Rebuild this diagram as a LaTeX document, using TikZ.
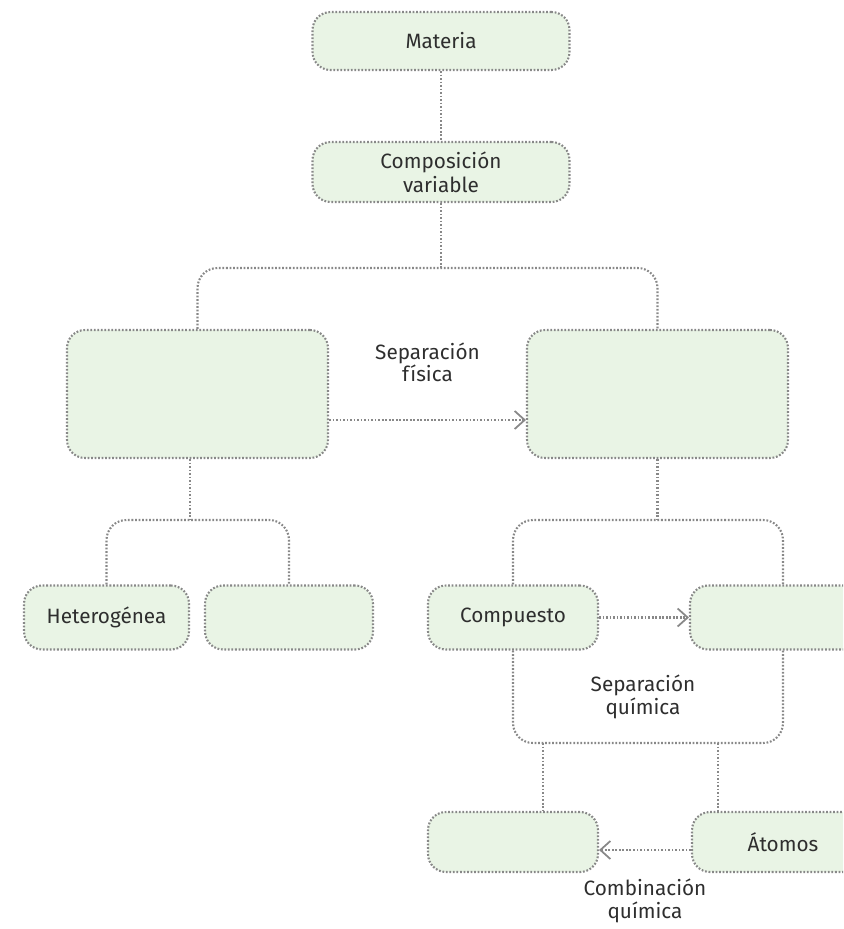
\documentclass[tikz,border=0pt]{standalone}
\usepackage{fontspec}
\setmainfont{Fira Sans}
\usetikzlibrary{arrows.meta, positioning}
\definecolor{boxfill}{HTML}{E9F4E5}
\definecolor{dotgray}{HTML}{888888}
\definecolor{txtgray}{HTML}{2E2E2E}

\begin{document}
\begin{tikzpicture}[
    x=0.02cm, y=-0.02cm,
    box/.style={rectangle, draw=dotgray, fill=boxfill, rounded corners=0.36cm, line width=1.2pt,
        dash pattern=on 1pt off 1pt, font=\fontsize{11.8}{13.5}\selectfont, text=txtgray, align=center},
    small/.style={box, minimum width=3.3cm, minimum height=1.28cm},
    link/.style={draw=dotgray, line width=1.2pt, dash pattern=on 1pt off 1pt},
    arr/.style={link, -{Straight Barb[length=2mm, width=3.6mm, line width=1pt]}},
    lbl/.style={font=\fontsize{11.8}{13}\selectfont, text=txtgray, align=center}
]
\clip (0,0) rectangle (843,929);

% Top
\node[box, minimum width=5.14cm, minimum height=1.16cm] (mat) at (441,41) {Materia};
\node[box, minimum width=5.14cm, minimum height=1.2cm] (cv) at (441,172) {Composición\\variable};

% Mixtures / pure substances
\node[box, minimum width=5.22cm, minimum height=2.56cm] (mixL) at (197.5,394) {};
\node[box, minimum width=5.22cm, minimum height=2.56cm] (mixR) at (657.5,394) {};

% Third row
\node[small] (het) at (106.5,617.5) {Heterogénea};
\node[small, minimum width=3.36cm] (hom) at (289,617.5) {};
\node[small, minimum width=3.4cm] (comp) at (513,617.5) {Compuesto};
\node[small, minimum width=3.72cm] (elem) at (783,617.5) {};

% Bottom row
\node[small, minimum width=3.4cm, minimum height=1.2cm] (mol) at (513,842) {};
\node[small, minimum width=3.64cm, minimum height=1.2cm] (atom) at (783,842) {Átomos};

% Branch points
\coordinate (b1) at (441,268);
\coordinate (b2) at (190,520);
\coordinate (b3) at (657.5,520);
\coordinate (b4) at (650,743);
\coordinate (d1) at (543,743);
\coordinate (d2) at (718,743);

% Connectors
\draw[link] (mat) -- (cv);
\draw[link] (cv) -- (b1);
\draw[link, rounded corners=0.4cm] (mixL) |- (b1) -| (mixR);
\draw[link] (b2 |- mixL.south) -- (b2);
\draw[link, rounded corners=0.4cm] (het) |- (b2) -| (hom);
\draw[link] (mixR) -- (b3);
\draw[link, rounded corners=0.4cm] (comp) |- (b3) -| (elem);
\draw[link, rounded corners=0.4cm] (comp) |- (b4) -| (elem);
\draw[link] (d1) -- (d1 |- mol.north);
\draw[link] (d2) -- (d2 |- atom.north);

% Arrows
\draw[arr] ([yshift=-5.2mm]mixL.east) -- node[lbl, above=0.62cm] (sf) {Separación\\física} ([yshift=-5.2mm]mixR.west);
\draw[arr] (comp) -- (elem);
\draw[arr] ([yshift=-1.6mm]atom.west) -- node[lbl, below=0.53cm, inner sep=1pt] (cq) {Combinación\\química} ([yshift=-1.6mm]mol.east);
\node[lbl] (sq) at (643,697) {Separación\\química};

\end{tikzpicture}
\end{document}
